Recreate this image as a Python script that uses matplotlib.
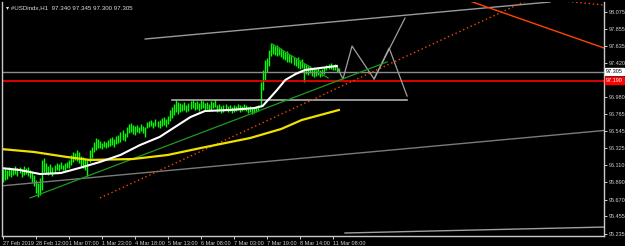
import matplotlib
matplotlib.use("Agg")
import matplotlib.pyplot as plt

plt.rcParams['font.family'] = ['Liberation Sans Narrow', 'Liberation Sans', 'DejaVu Sans']

# H1 bars, bar index 0 = 27 Feb 2019
highs = [96.062, 96.075, 96.050, 96.088, 96.075, 96.062, 96.101, 96.075, 96.088, 96.062,
         96.101, 96.075, 96.088, 96.050, 96.024, 95.986, 95.922, 95.883, 95.947, 96.178,
         96.203, 96.139, 96.101, 96.126, 96.088, 96.114, 96.139, 96.126, 96.152, 96.114,
         96.139, 96.152, 96.178, 96.242, 96.280, 96.267, 96.305, 96.280, 96.229, 96.216,
         96.203, 96.178, 96.305, 96.344, 96.408, 96.459, 96.446, 96.420, 96.395, 96.420,
         96.408, 96.433, 96.459, 96.472, 96.446, 96.484, 96.497, 96.536, 96.561, 96.523,
         96.600, 96.638, 96.651, 96.625, 96.612, 96.625, 96.600, 96.638, 96.612, 96.600,
         96.663, 96.676, 96.689, 96.663, 96.702, 96.676, 96.689, 96.715, 96.727, 96.702,
         96.740, 96.817, 96.855, 96.894, 96.945, 96.919, 96.906, 96.894, 96.919, 96.881,
         96.906, 96.932, 96.945, 96.919, 96.932, 96.906, 96.945, 96.932, 96.906, 96.919,
         96.894, 96.932, 96.919, 96.958, 96.881, 96.894, 96.868, 96.881, 96.894, 96.868,
         96.881, 96.855, 96.881, 96.868, 96.894, 96.881, 96.868, 96.894, 96.881, 96.855,
         96.868, 96.842, 96.855, 96.868, 96.881, 97.175, 97.328, 97.456, 97.482, 97.584,
         97.674, 97.661, 97.635, 97.648, 97.623, 97.610, 97.584, 97.559, 97.571, 97.533,
         97.520, 97.495, 97.482, 97.495, 97.456, 97.469, 97.418, 97.405, 97.392, 97.380,
         97.354, 97.367, 97.341, 97.354, 97.328, 97.341, 97.367, 97.392, 97.405, 97.418,
         97.392, 97.405, 97.367, 97.354]
lows = [95.896, 95.922, 95.935, 95.973, 95.960, 95.986, 95.998, 95.973, 96.011, 95.960,
        95.986, 95.998, 95.973, 95.947, 95.896, 95.845, 95.756, 95.704, 95.730, 95.794,
        96.024, 95.998, 95.986, 96.011, 95.973, 96.024, 96.050, 96.037, 96.062, 96.050,
        96.037, 96.075, 96.075, 96.114, 96.152, 96.178, 96.165, 96.139, 96.101, 96.075,
        96.050, 95.973, 96.152, 96.203, 96.280, 96.305, 96.331, 96.331, 96.318, 96.344,
        96.331, 96.344, 96.357, 96.369, 96.344, 96.382, 96.395, 96.408, 96.433, 96.420,
        96.472, 96.523, 96.536, 96.510, 96.497, 96.536, 96.523, 96.548, 96.523, 96.472,
        96.587, 96.600, 96.612, 96.587, 96.612, 96.600, 96.587, 96.612, 96.625, 96.600,
        96.638, 96.676, 96.715, 96.753, 96.791, 96.766, 96.791, 96.804, 96.817, 96.791,
        96.804, 96.830, 96.842, 96.817, 96.830, 96.804, 96.830, 96.842, 96.817, 96.830,
        96.804, 96.817, 96.842, 96.855, 96.791, 96.804, 96.779, 96.791, 96.817, 96.791,
        96.804, 96.779, 96.791, 96.804, 96.817, 96.791, 96.804, 96.817, 96.804, 96.779,
        96.791, 96.766, 96.779, 96.791, 96.804, 96.855, 97.073, 97.201, 97.303, 97.380,
        97.507, 97.533, 97.520, 97.507, 97.520, 97.495, 97.469, 97.456, 97.431, 97.431,
        97.418, 97.392, 97.380, 97.354, 97.341, 97.354, 97.175, 97.277, 97.265, 97.290,
        97.252, 97.239, 97.252, 97.265, 97.239, 97.252, 97.277, 97.328, 97.341, 97.341,
        97.328, 97.328, 97.303, 97.303]

# moving averages (bar index, price)
ma_slow_x = [-1, 15, 31, 42, 63, 80, 96, 120, 135, 145, 163]
ma_slow_y = [96.318, 96.280, 96.216, 96.178, 96.190, 96.242, 96.331, 96.459, 96.574, 96.689, 96.817]
ma_fast_x = [-1, 8, 18, 28, 37, 47, 57, 66.5, 76, 83.5, 91, 98, 110, 122, 126, 129.5, 133,
             137, 142, 146.5, 154, 162]
ma_fast_y = [96.075, 96.050, 95.998, 96.011, 96.075, 96.152, 96.242, 96.369, 96.472, 96.600,
             96.727, 96.804, 96.817, 96.842, 96.868, 96.970, 97.073, 97.201, 97.277, 97.328,
             97.354, 97.380]

# drawn objects
chan_up = ([69, 265.5], [97.725, 98.198])
chan_low = ([-1.5, 291.7], [95.845, 96.555])
chan_bottom = ([166, 291.7], [95.244, 95.320])
level_gray = ([82, 196], [96.950, 96.950])
zigzag_x = [162.1, 165.0, 169.4, 180.1, 187.4, 196.1]
zigzag_y = [97.367, 97.213, 97.635, 97.213, 97.610, 96.996]
ray_gray = ([180.1, 195.1], [97.213, 97.993])
trend_green = ([13.1, 186.4], [95.692, 97.431])
trend_green2 = ([130.6, 157.8], [97.661, 97.226])
trend_red_dot = ([47.1, 260], [95.692, 98.288])
trend_red = ([212, 291.7], [98.344, 97.610])
trend_red_dot2 = ([260.7, 291.3], [98.240, 98.160])

bid = 97.305
red_level = 97.190

ytick_vals = [95.235, 95.455, 95.670, 95.890, 96.110, 96.325, 96.545, 96.765, 96.980,
              97.420, 97.635, 97.855, 98.075]
xtick_pos = [0, 16, 32, 48, 64, 80, 96, 112, 128, 144, 160]
xtick_lab = ['27 Feb 2019', '28 Feb 12:00', '1 Mar 07:00', '1 Mar 23:00', '4 Mar 18:00',
             '5 Mar 13:00', '6 Mar 08:00', '7 Mar 03:00', '7 Mar 19:00', '8 Mar 14:00',
             '11 Mar 08:00']

fig = plt.figure(figsize=(6.25, 2.46), dpi=100, facecolor='black')
ax = fig.add_axes([2 / 625, 10.5 / 246, 602 / 625, 233.5 / 246], facecolor='black')

# bars
ax.vlines(range(len(highs)), lows, highs, color='#00ff00', lw=1.0)

ax.axhline(bid, color='#8c8c8c', lw=1)
ax.axhline(red_level, color='#ff0000', lw=1.2)
ax.plot(*chan_up, color='#9a9a9a', lw=1)
ax.plot(*chan_low, color='#7a7a7a', lw=1)
ax.plot(*chan_bottom, color='#a0a0a0', lw=1)
ax.plot(*level_gray, color='#b0b0b0', lw=1.2)
ax.plot(zigzag_x, zigzag_y, color='#a0a0a0', lw=0.9)
ax.plot(*ray_gray, color='#a0a0a0', lw=0.9)
ax.plot(*trend_green, color='#1f9a1f', lw=0.9)
ax.plot(*trend_green2, color='#1f9a1f', lw=0.9)
ax.plot(*trend_red_dot, color='#ff4500', lw=1, ls=(0, (1, 2)))
ax.plot(*trend_red, color='#ff4500', lw=1)
ax.plot(*trend_red_dot2, color='#ff4500', lw=1, ls=(0, (1, 2)))
ax.plot(ma_slow_x, ma_slow_y, color='#f0e000', lw=1.6)
ax.plot(ma_fast_x, ma_fast_y, color='white', lw=1.5)

ax.set_xlim(-0.5, 291.7)
ax.set_ylim(95.212, 98.198)

ax.yaxis.tick_right()
ax.set_yticks(ytick_vals)
ax.set_yticklabels(['%.3f' % v for v in ytick_vals])
ax.set_xticks(xtick_pos)
ax.set_xticklabels(xtick_lab, ha='left')
ax.tick_params(colors='#d0d0d0', labelsize=4.0, length=2.5, width=0.7, pad=1.2)
ax.tick_params(axis='y', pad=0.8)
for s in ['left', 'right', 'bottom']:
    ax.spines[s].set_color('#c8c8c8')
    ax.spines[s].set_linewidth(1)
ax.spines['top'].set_visible(False)

# price boxes on the right scale
ax.text(1.003, bid, '%.3f' % bid, transform=ax.get_yaxis_transform(), fontsize=4.0,
        color='black', va='center', ha='left',
        bbox=dict(boxstyle='square,pad=0.15', fc='white', ec='white'))
ax.text(1.003, red_level, '%.3f' % red_level, transform=ax.get_yaxis_transform(),
        fontsize=4.0, color='white', va='center', ha='left',
        bbox=dict(boxstyle='square,pad=0.15', fc='#ff0000', ec='#ff0000'))

ax.text(0.006, 0.985, '\u25be #USDindx,H1  97.340 97.345 97.300 97.305', transform=ax.transAxes,
        fontsize=4.4, color='#e0e0e0', va='top', ha='left')

plt.savefig('out.png', dpi=100, facecolor='black')
